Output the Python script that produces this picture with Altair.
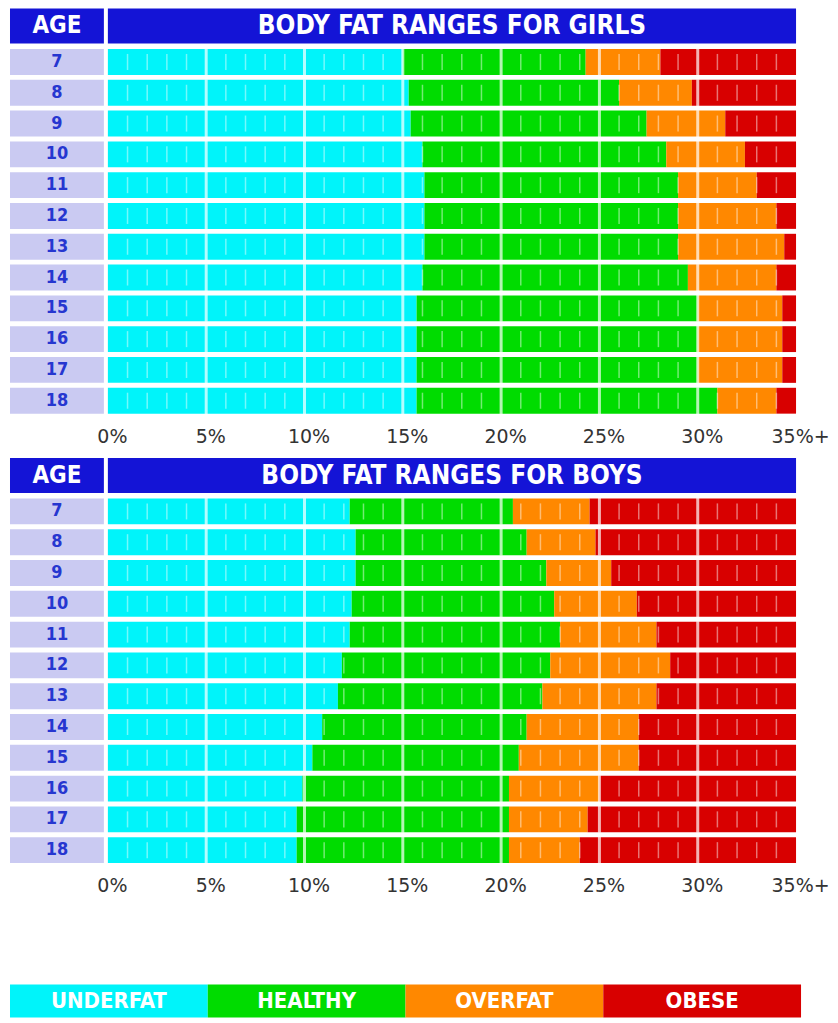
import altair as alt
import pandas as pd

# ---------------- data ----------------
ages = [7, 8, 9, 10, 11, 12, 13, 14, 15, 16, 17, 18]
categories = ["UNDERFAT", "HEALTHY", "OVERFAT", "OBESE"]
colors = ["#00F4FA", "#00DC00", "#FF8800", "#D80000"]

# upper boundary (% body fat) of underfat / healthy / overfat; obese runs to the scale end
girls_under = [15.0, 15.3, 15.4, 16.0, 16.1, 16.1, 16.1, 16.0, 15.7, 15.7, 15.7, 15.7]
girls_healthy = [24.3, 26.0, 27.4, 28.4, 29.0, 29.0, 29.0, 29.5, 30.0, 30.0, 30.0, 31.0]
girls_over = [28.1, 29.7, 31.4, 32.4, 33.0, 34.0, 34.4, 34.0, 34.3, 34.3, 34.3, 34.0]

boys_under = [12.3, 12.6, 12.6, 12.4, 12.3, 11.9, 11.7, 10.9, 10.4, 9.9, 9.6, 9.6]
boys_healthy = [20.6, 21.3, 22.3, 22.7, 23.0, 22.5, 22.1, 21.3, 20.9, 20.4, 20.4, 20.4]
boys_over = [24.5, 24.8, 25.6, 26.9, 27.9, 28.6, 27.9, 27.0, 27.0, 25.0, 24.4, 24.0]

scale_max = 35
tick_values = [0, 5, 10, 15, 20, 25, 30, 35]
major_lines = [5, 10, 15, 20, 25, 30]
minor_lines = [v for v in range(1, 35) if v % 5 != 0]

titles = {"girls": "BODY FAT RANGES FOR GIRLS", "boys": "BODY FAT RANGES FOR BOYS"}

# ---------------- style ----------------
FONT = "Liberation Sans Narrow, DejaVu Sans Condensed, Roboto, sans-serif"
AXFONT = "DejaVu Sans, Roboto, sans-serif"
HEADER_BLUE = "#1414D6"
AGE_BG = "#CACAF2"
AGE_TEXT = "#2636D0"

BAR_W = 689
AGE_W = 94
HDR_H = 35
ROWS_H = 370
P_IN = 0.16
P_OUT = 0.08
step = ROWS_H / (len(ages) - P_IN + 2 * P_OUT)
bar_h = step * (1 - P_IN)

age_labels = [str(a) for a in ages]
yscale = alt.Scale(domain=age_labels, paddingInner=P_IN, paddingOuter=P_OUT)
xscale = alt.Scale(domain=[0, scale_max], nice=False, zero=True, padding=0)
xaxis = alt.Axis(
    values=tick_values,
    labelExpr="datum.value == 35 ? '35%+' : datum.value + '%'",
    grid=False, domain=False, ticks=False,
    labelFont=AXFONT, labelFontSize=19, labelFontWeight=500,
    labelColor="#333333", labelPadding=11, labelFlush=False,
    labelOverlap=False, labelOffset=4, title=None,
)


def xenc(field):
    return alt.X(f"{field}:Q", scale=xscale, axis=xaxis)


def yenc():
    return alt.Y("age:N", scale=yscale, axis=None, sort=age_labels)


def panel(key, under, healthy, over):
    rows = []
    for a, u, h, o in zip(ages, under, healthy, over):
        b = [0, u, h, o, scale_max]
        for i, c in enumerate(categories):
            rows.append({"age": str(a), "cat": c, "start": b[i], "end": b[i + 1]})
    seg = pd.DataFrame(rows)
    major = pd.DataFrame([{"age": str(a), "x": v} for a in ages for v in major_lines])
    minor = pd.DataFrame([{"age": str(a), "x": v} for a in ages for v in minor_lines])

    bars = alt.Chart(seg).mark_bar(cornerRadius=0).encode(
        x=xenc("start"), x2="end", y=yenc(),
        color=alt.Color("cat:N", scale=alt.Scale(domain=categories, range=colors), legend=None),
    )
    minor_t = alt.Chart(minor).mark_tick(
        color="white", opacity=0.45, thickness=1.5, size=bar_h * 0.62
    ).encode(x=xenc("x"), y=yenc())
    major_t = alt.Chart(major).mark_tick(
        color="white", thickness=3, size=bar_h + 1
    ).encode(x=xenc("x"), y=yenc())
    bars_chart = alt.layer(bars, minor_t, major_t).properties(width=BAR_W, height=ROWS_H)

    age_df = pd.DataFrame({"age": age_labels})
    age_col = alt.layer(
        alt.Chart(age_df).mark_rect(color=AGE_BG).encode(y=yenc()),
        alt.Chart(age_df).mark_text(
            font=FONT, fontSize=18, fontWeight="bold", color=AGE_TEXT
        ).encode(y=yenc(), text="age:N"),
    ).properties(width=AGE_W, height=ROWS_H)

    age_hdr = alt.Chart(pd.DataFrame({"t": ["AGE"]})).mark_text(
        font=FONT, fontSize=24, fontWeight="bold", color="white"
    ).encode(text="t:N").properties(
        width=AGE_W, height=HDR_H, view=alt.ViewBackground(fill=HEADER_BLUE, strokeWidth=0)
    )
    title_hdr = alt.Chart(pd.DataFrame({"t": [titles[key]]})).mark_text(
        font=FONT, fontSize=26, fontWeight="bold", color="white"
    ).encode(text="t:N").properties(
        width=BAR_W, height=HDR_H, view=alt.ViewBackground(fill=HEADER_BLUE, strokeWidth=0)
    )

    header = alt.hconcat(age_hdr, title_hdr, spacing=4, bounds="flush")
    body = alt.hconcat(age_col, bars_chart, spacing=4, bounds="flush")
    return alt.vconcat(header, body, spacing=3)


girls = panel("girls", girls_under, girls_healthy, girls_over)
boys = panel("boys", boys_under, boys_healthy, boys_over)

leg_df = pd.DataFrame({"cat": categories})
leg_x = alt.X("cat:N", sort=categories, scale=alt.Scale(paddingInner=0, paddingOuter=0), axis=None)
legend = alt.layer(
    alt.Chart(leg_df).mark_rect().encode(
        x=leg_x,
        color=alt.Color("cat:N", scale=alt.Scale(domain=categories, range=colors), legend=None),
    ),
    alt.Chart(leg_df).mark_text(
        font=FONT, fontSize=22, fontWeight="bold", color="white"
    ).encode(x=leg_x, text="cat:N"),
).properties(width=792, height=33)

top = alt.vconcat(girls, boys, spacing=12)
chart = alt.vconcat(top, legend, spacing=89).properties(
    padding={"left": 2, "top": 0, "right": 0, "bottom": 0}
).configure_view(strokeWidth=0)

chart.save("out.html", embed_options={"renderer": "svg", "actions": False})
